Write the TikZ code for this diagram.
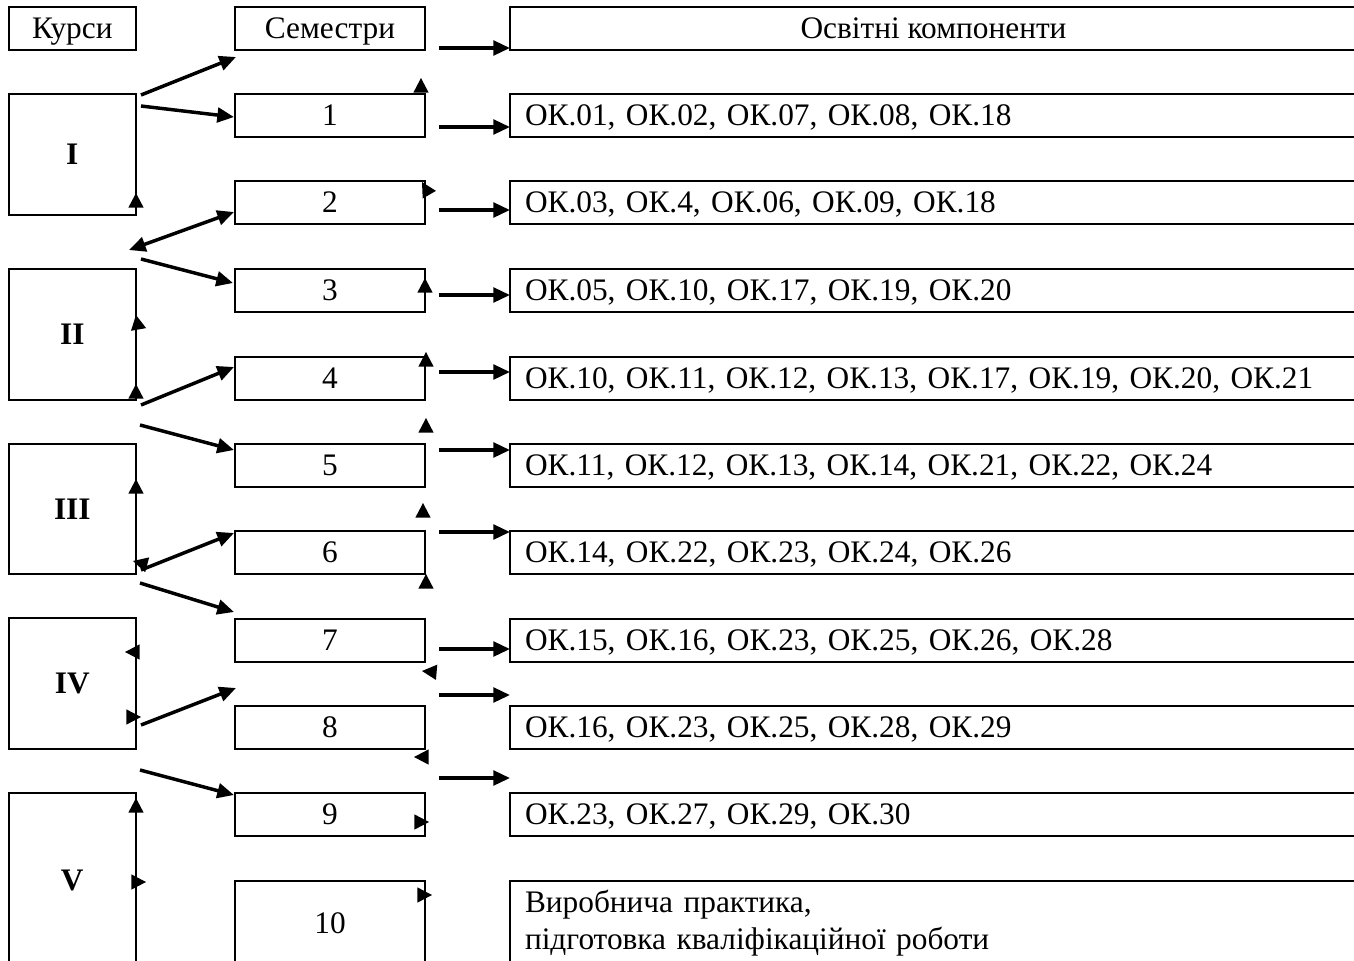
\documentclass[tikz,border=0pt]{standalone}
\usepackage{fontspec}
\setmainfont{Liberation Serif}
\usetikzlibrary{arrows.meta,calc}
\newcommand\myfs{\fontsize{23.5pt}{27.75pt}\selectfont}
\begin{document}
\begin{tikzpicture}[x=0.75pt,y=-0.75pt,
  box/.style={draw, line width=1.5pt, inner sep=0pt, font=\myfs},
  one/.style={text height=15.6pt, text depth=0pt},
  kbox/.style={box, one, minimum width=95.55pt},
  sbox/.style={box, one, minimum width=142.5pt, minimum height=32.25pt},
  wbox/.style={box, anchor=west, minimum width=635.25pt, minimum height=32.25pt,
     text width=612.75pt, inner xsep=11.25pt, align=left},
  obox/.style={wbox, one},
  arr/.style={line width=2.6pt, -{Triangle[length=12.5pt,width=11pt]}},
  darr/.style={line width=2.6pt, {Triangle[length=12.5pt,width=11pt]}-{Triangle[length=12.5pt,width=11pt]}},
  ahead/.pic={\fill (0pt,0pt) -- (-11pt,5.75pt) -- (-11pt,-5.75pt) -- cycle;}]
\useasboundingbox (0,0) rectangle (1354,961);
\clip (0,0) rectangle (1354,961);
\fill[white] (0,0) rectangle (1354,961);
% header row
\node[kbox, minimum height=32.25pt] (kursy) at (72.3,28.5) {Курси};
\node[sbox] (sem) at (330,28.5) {Семестри};
\node[box, one, anchor=west, minimum width=635.25pt, minimum height=32.25pt] (osv) at (509,28.5) {Освітні компоненти};
% courses
\node[kbox, minimum height=90.75pt] (k1) at (72.3,154.5) {\textbf{I}};
\node[kbox, minimum height=98.25pt] (k2) at (72.3,334.5) {\textbf{II}};
\node[kbox, minimum height=97.5pt] (k3) at (72.3,509) {\textbf{III}};
\node[kbox, minimum height=98.25pt] (k4) at (72.3,683.5) {\textbf{IV}};
\node[kbox, minimum height=130.5pt] (k5) at (72.3,880) {\textbf{V}};
% semesters
\node[sbox] (s1) at (330,115.5) {1};
\node[sbox] (s2) at (330,202.5) {2};
\node[sbox] (s3) at (330,290.5) {3};
\node[sbox] (s4) at (330,378) {4};
\node[sbox] (s5) at (330,465.5) {5};
\node[sbox] (s6) at (330,552.5) {6};
\node[sbox] (s7) at (330,640) {7};
\node[sbox] (s8) at (330,727.5) {8};
\node[sbox] (s9) at (330,814.5) {9};
\node[sbox, anchor=north, minimum height=63pt] (s10) at (330,880) {10};
% components
\node[obox] (o1) at (509,115.5) {ОК.01, ОК.02, ОК.07, ОК.08, ОК.18};
\node[obox] (o2) at (509,202.5) {ОК.03, ОК.4, ОК.06, ОК.09, ОК.18};
\node[obox] (o3) at (509,290.5) {ОК.05, ОК.10, ОК.17, ОК.19, ОК.20};
\node[obox] (o4) at (509,378) {ОК.10, ОК.11, ОК.12, ОК.13, ОК.17, ОК.19, ОК.20, ОК.21};
\node[obox] (o5) at (509,465.5) {ОК.11, ОК.12, ОК.13, ОК.14, ОК.21, ОК.22, ОК.24};
\node[obox] (o6) at (509,552.5) {ОК.14, ОК.22, ОК.23, ОК.24, ОК.26};
\node[obox] (o7) at (509,640) {ОК.15, ОК.16, ОК.23, ОК.25, ОК.26, ОК.28};
\node[obox] (o8) at (509,727.5) {ОК.16, ОК.23, ОК.25, ОК.28, ОК.29};
\node[obox] (o9) at (509,814.5) {ОК.23, ОК.27, ОК.29, ОК.30};
\node[wbox, anchor=north west, minimum height=63pt] (o10) at (509,880) {Виробнича практика,\\підготовка кваліфікаційної роботи};
% left connectors: free start points and end points
\coordinate (a1) at (141,95);   \coordinate (b1) at (236,57);
\coordinate (a2) at (141,106);  \coordinate (b2) at (234,117);
\coordinate (a3) at (129,250);  \coordinate (b3) at (234,212);
\coordinate (a4) at (141,259);  \coordinate (b4) at (233,283);
\coordinate (a5) at (141,405);  \coordinate (b5) at (234,367);
\coordinate (a6) at (140,425);  \coordinate (b6) at (234,450);
\coordinate (a7) at (141,570);  \coordinate (b7) at (234,533);
\coordinate (a8) at (140,583);  \coordinate (b8) at (234,612);
\coordinate (a9) at (141,725);  \coordinate (b9) at (236,688);
\coordinate (a10) at (140,770); \coordinate (b10) at (234,795);
\draw[arr] (a1) -- (b1);
\draw[arr] (a2) -- (b2);
\draw[darr] (a3) -- (b3);
\draw[arr] (a4) -- (b4);
\draw[arr] (a5) -- (b5);
\draw[arr] (a6) -- (b6);
\draw[arr] (a7) -- (b7);
\draw[arr] (a8) -- (b8);
\draw[arr] (a9) -- (b9);
\draw[arr] (a10) -- (b10);
% right connectors
\foreach \y [count=\i] in {48,127,210,295,372,450,532,649,695,778}{
  \coordinate (r\i) at (439,\y);
  \coordinate (q\i) at (510,\y);
  \draw[arr] (r\i) -- (q\i);
}
% stray arrow heads
\foreach \p/\a in {{(421,78)}/90,{(422,182)}/120,{(136,193)}/90,{(136,315)}/100,
  {(136,384)}/90,{(425,278)}/90,{(426,352)}/90,{(426,418)}/90,{(136,479)}/90,
  {(423,503)}/90,{(133,561)}/165,{(426,574)}/90,{(422,671)}/175,{(125,652)}/180,
  {(141,717)}/0,{(414,757)}/180,{(429,822)}/0,{(136,798)}/90,{(146,882)}/0,{(432,895)}/0}{
  \pic[rotate=\a] at \p {ahead};
}
\end{tikzpicture}
\end{document}
